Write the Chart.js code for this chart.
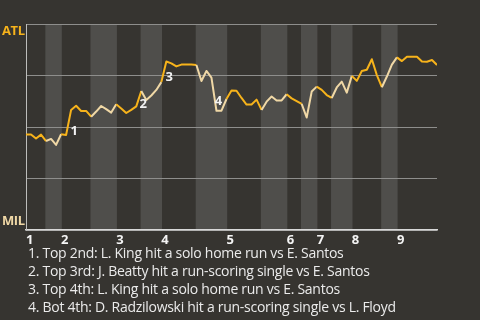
<!DOCTYPE html>
<html>
<head>
<meta charset="utf-8">
<script src="https://cdn.jsdelivr.net/npm/chart.js@4/dist/chart.umd.min.js"></script>
<style>
  html, body { margin: 0; padding: 0; background: #363430; width: 480px; height: 320px; overflow: hidden; }
  #wrap { position: absolute; left: 0; top: 0; width: 480px; height: 250px; }
  #notes { position: absolute; left: 28px; top: 244px; color: #ebebeb; font-family: "Open Sans", sans-serif; font-size: 14px; letter-spacing: -0.28px; line-height: 18px; white-space: nowrap; }
</style>
</head>
<body>
<div id="wrap"><canvas id="c" width="480" height="250"></canvas></div>
<div id="notes"></div>
<script>
// ---- data ----
const winProb = [46.4,46.4,44.4,46.3,43.2,44.2,41.3,46.5,46.1,58.3,
  60.3,57.8,57.8,55.0,57.5,60.2,58.7,57.0,61.0,59.0,
  56.8,58.3,60.0,67.5,63.1,65.3,68.0,71.8,81.8,80.9,
  79.4,80.3,80.3,80.3,80.1,72.3,77.2,74.0,57.9,57.9,
  63.6,67.7,67.6,64.1,60.9,60.9,63.3,58.3,62.3,64.8,
  62.9,62.9,65.9,63.9,62.6,61.2,54.6,67.2,69.6,68.0,
  65.5,64.1,69.2,72.0,66.7,74.8,72.4,77.2,77.8,82.9,
  75.2,69.3,74.5,80.3,83.8,82.0,84.1,84.1,84.1,81.8,
  81.7,82.5,80.1];
const inningLabels = ['1','2','3','4','5','6','7','8','9'];
const topHalfStart = [0,7,18,27,40,52,58,65,74];
const bottomHalfStart = [4,13,23,34,47,55,61,71];
const teamLabels = ['ATL','MIL'];
const eventPlays = [9,23,28,38];
const eventLabels = ['1','2','3','4'];
const eventNotes = [
  '1. Top 2nd: L. King hit a solo home run vs E. Santos',
  '2. Top 3rd: J. Beatty hit a run-scoring single vs E. Santos',
  '3. Top 4th: L. King hit a solo home run vs E. Santos',
  '4. Bot 4th: D. Radzilowski hit a run-scoring single vs L. Floyd'
];

// ---- styles ----
const ATL_COLOR = '#f7b31b';
const MIL_COLOR = '#f0d8a6';
const BAND_COLOR = '#4f4e4b';
const eventOffsets = [[3,21],[2,13],[3,16],[2,-9]];

const lastPlay = winProb.length - 1;
const points = winProb.map((v, i) => ({x: i, y: v}));

function bottomEnd(k) { return topHalfStart[k + 1] !== undefined ? topHalfStart[k + 1] : lastPlay; }
function inBottomHalf(x) {
  for (let k = 0; k < bottomHalfStart.length; k++) {
    if (x >= bottomHalfStart[k] && x < bottomEnd(k)) return true;
  }
  return false;
}

document.getElementById('notes').innerHTML = eventNotes.map(t => '<div>' + t + '</div>').join('');

const bandsPlugin = {
  id: 'bands',
  beforeDraw(chart) {
    const {ctx, chartArea, scales} = chart;
    ctx.save();
    ctx.fillStyle = BAND_COLOR;
    bottomHalfStart.forEach((s, k) => {
      const x0 = scales.x.getPixelForValue(s) - 0.7;
      const x1 = scales.x.getPixelForValue(bottomEnd(k)) + 0.7;
      ctx.fillRect(x0, chartArea.top, x1 - x0, chartArea.bottom - chartArea.top);
    });
    ctx.restore();
  }
};

const textPlugin = {
  id: 'texts',
  afterDraw(chart) {
    const {ctx, scales} = chart;
    ctx.save();
    ctx.font = 'bold 13px "Open Sans", sans-serif';
    if ('letterSpacing' in ctx) ctx.letterSpacing = '-0.4px';
    ctx.textBaseline = 'middle';
    ctx.textAlign = 'left';
    ctx.fillStyle = ATL_COLOR;
    ctx.fillText(teamLabels[0], 2, scales.y.getPixelForValue(100) + 7);
    ctx.fillStyle = MIL_COLOR;
    ctx.fillText(teamLabels[1], 2, scales.y.getPixelForValue(0) - 9);
    if ('letterSpacing' in ctx) ctx.letterSpacing = '0px';
    ctx.textAlign = 'center';
    ctx.fillStyle = '#f2f2f2';
    eventPlays.forEach((p, k) => {
      const x = scales.x.getPixelForValue(p) + eventOffsets[k][0];
      const y = scales.y.getPixelForValue(winProb[p]) + eventOffsets[k][1];
      ctx.fillText(eventLabels[k], x, y);
    });
    ctx.restore();
  }
};

new Chart(document.getElementById('c'), {
  type: 'line',
  data: {
    datasets: [{
      data: points,
      borderWidth: 2,
      pointRadius: 0,
      tension: 0,
      borderJoinStyle: 'round',
      segment: {
        borderColor: c => inBottomHalf(c.p0.parsed.x) ? MIL_COLOR : ATL_COLOR
      },
      borderColor: ATL_COLOR
    }]
  },
  options: {
    responsive: false,
    animation: false,
    layout: { padding: { top: 24, right: 43, left: 0, bottom: 0 } },
    plugins: { legend: { display: false }, tooltip: { enabled: false } },
    scales: {
      x: {
        type: 'linear',
        min: 0,
        max: lastPlay,
        afterBuildTicks: axis => { axis.ticks = topHalfStart.map(v => ({value: v})); },
        afterFit: s => { s.height = 20; },
        grid: { display: false, drawTicks: false },
        border: { display: true, color: '#d8d8d8', width: 1.5 },
        ticks: {
          autoSkip: false, maxRotation: 0, align: 'start', padding: 2,
          color: '#f4f4f4',
          font: { family: '"Open Sans", sans-serif', size: 13, weight: 'bold' },
          callback: (v, i) => inningLabels[i]
        }
      },
      y: {
        min: 0,
        max: 100,
        afterFit: s => { s.width = 26; },
        ticks: { display: false, stepSize: 25 },
        grid: { color: '#8e8e8c', lineWidth: 1, drawTicks: false },
        border: { display: true, color: '#bdbdbb', width: 1 }
      }
    }
  },
  plugins: [bandsPlugin, textPlugin]
});
</script>
</body>
</html>
